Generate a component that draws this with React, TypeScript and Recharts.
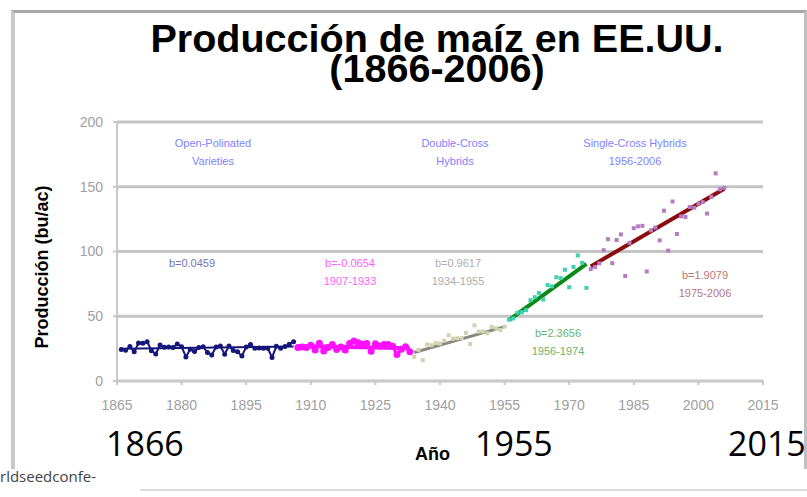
import React from 'react';
import {
  ComposedChart,
  Line,
  Scatter,
  XAxis,
  YAxis,
  CartesianGrid
} from 'recharts';

// rendimiento por año (bu/ac), tramos tal como en el gráfico
const openPollStart = 1866;
const openPollYield = [
  24.3, 23.8, 26.6, 22.5, 29.3, 29.1, 30.4, 23.4, 20.9, 27.8, 26.0, 26.3, 25.9, 28.6,
  26.5, 18.6, 24.6, 22.7, 25.8, 26.5, 22.0, 20.1, 26.3, 27.0, 20.7, 27.0, 23.5, 22.5,
  19.4, 26.2, 28.2, 25.3, 25.5, 25.3, 25.3, 18.2, 26.8, 25.3, 26.6, 28.4, 30.3
];

const lateOpenStart = 1907;
const lateOpenYield = [
  25.9, 26.2, 25.9, 27.7, 23.9, 29.2, 23.1, 25.8, 28.2, 24.4, 26.3, 24.0, 28.9, 30.9,
  29.6, 28.3, 28.9, 22.9, 28.8, 27.0, 28.1, 28.2, 26.8, 20.5, 24.5, 26.5, 22.6
];

const doubleCrossStart = 1934;
const doubleCrossYield = [
  18.7, 24.0, 16.1, 28.2, 27.7, 29.3, 28.9, 31.2, 35.4, 32.6, 33.0, 33.1, 37.2, 28.6,
  43.0, 38.2, 38.2, 36.9, 41.8, 40.7, 39.4, 42.0
];

const earlySingleStart = 1956;
const earlySingleYield = [
  47.4, 48.3, 52.8, 53.1, 54.7, 62.4, 64.7, 67.9, 62.9, 74.1, 73.1, 80.1, 79.5, 85.9,
  72.4, 88.1, 97.0, 91.3, 71.9
];

const singleCrossStart = 1975;
const singleCrossYield = [
  86.4, 88.0, 90.8, 101.0, 109.5, 91.0, 108.9, 113.2, 81.1, 106.7, 118.0, 119.4, 119.8,
  84.6, 116.3, 118.5, 108.6, 131.5, 100.7, 138.6, 113.5, 127.1, 126.7, 134.4, 133.8,
  136.9, 138.2, 129.3, 142.2, 160.3, 148.0, 149.1
];

// extremos de las rectas de tendencia
const trendYears = {
  open: [1866, 1906],
  lateOpen: [1907, 1933],
  double: [1934, 1955],
  earlySingle: [1956, 1974],
  single: [1975, 2006]
};
const trendValues = {
  open: [24.9, 26.7],
  lateOpen: [27.0, 25.3],
  double: [22.0, 42.0],
  earlySingle: [47.0, 90.5],
  single: [88.5, 148.5]
};

const xTicks = [1865, 1880, 1895, 1910, 1925, 1940, 1955, 1970, 1985, 2000, 2015];
const yTicks = [0, 50, 100, 150, 200];

const toPoints = (start: number, values: number[]) =>
  values.map((y, i) => ({ x: start + i, y }));

const toTrend = (key: keyof typeof trendYears) =>
  trendYears[key].map((x, i) => ({ x, y: trendValues[key][i] }));

const square = (color: string) => (props: any) => {
  const { cx, cy } = props;
  if (cx == null || cy == null) return <g />;
  return <rect x={cx - 2} y={cy - 2} width={4} height={4} fill={color} />;
};

const note = (left: number, top: number, color: string, lines: string[]) => (
  <div
    style={{
      position: 'absolute',
      left: left - 80,
      top,
      width: 160,
      textAlign: 'center',
      color,
      fontFamily: 'Liberation Sans, Arial, sans-serif',
      fontSize: 11,
      lineHeight: '18px',
      opacity: 0.85
    }}
  >
    {lines.map((l) => (
      <div key={l}>{l}</div>
    ))}
  </div>
);

const bigYear = (left: number, text: string) => (
  <div
    style={{
      position: 'absolute',
      left,
      top: 420,
      fontFamily: '"Liberation Sans Narrow", "Open Sans", sans-serif',
      fontSize: 34,
      color: '#000'
    }}
  >
    {text}
  </div>
);

export default function App() {
  return (
    <div
      style={{
        position: 'absolute',
        left: 0,
        top: 0,
        width: 807,
        height: 497,
        background: '#fff',
        overflow: 'hidden',
        fontFamily: 'Liberation Sans, Arial, sans-serif'
      }}
    >
      {/* marco de la imagen */}
      <div style={{ position: 'absolute', left: 11, top: 10, width: 789, height: 456, borderLeft: '4px solid #c8c8c8', borderRight: '3px solid #c0c0c0', borderTop: '3px solid #a8a8a8' }} />
      <div style={{ position: 'absolute', left: 140, top: 489, width: 667, height: 2, background: '#dcdcdc' }} />

      <div
        style={{
          position: 'absolute',
          left: 0,
          width: 874,
          top: 24,
          textAlign: 'center',
          fontWeight: 'bold',
          fontSize: 38,
          lineHeight: '30px',
          color: '#000'
        }}
      >
        <div style={{ transform: 'scaleX(1.04)' }}>Producción de maíz en EE.UU.</div>
        <div style={{ transform: 'scaleX(1.04)' }}>(1866-2006)</div>
      </div>

      <ComposedChart
        width={807}
        height={497}
        margin={{ top: 122, right: 44, bottom: 86, left: 57 }}
        style={{ position: 'absolute', left: 0, top: 0 }}
      >
        <CartesianGrid vertical={false} stroke="#c4c4c4" strokeWidth={3} />
        <XAxis
          dataKey="x"
          type="number"
          domain={[1865, 2015]}
          ticks={xTicks}
          interval={0}
          allowDuplicatedCategory={false}
          stroke="#c8c8c8"
          strokeWidth={2}
          tickSize={4}
          tickMargin={15}
          height={30}
          tick={{ fill: '#a0a0a0', fontSize: 14 }}
        />
        <YAxis
          type="number"
          domain={[0, 200]}
          ticks={yTicks}
          stroke="#c8c8c8"
          strokeWidth={2}
          tickSize={4}
          tickMargin={10}
          width={60}
          tick={{ fill: '#a0a0a0', fontSize: 14 }}
        />

        <Line
          data={toPoints(openPollStart, openPollYield)}
          dataKey="y"
          stroke="#15157a"
          strokeWidth={2}
          dot={{ r: 1.5, fill: '#15157a', stroke: '#15157a' }}
          isAnimationActive={false}
        />
        <Line
          data={toTrend('open')}
          dataKey="y"
          stroke="#15157a"
          strokeWidth={2}
          dot={false}
          isAnimationActive={false}
        />
        <Line
          data={toPoints(lateOpenStart, lateOpenYield)}
          dataKey="y"
          stroke="#ff10ff"
          strokeWidth={3}
          dot={{ r: 2, fill: '#ff10ff', stroke: '#ff10ff' }}
          isAnimationActive={false}
        />
        <Line
          data={toTrend('lateOpen')}
          dataKey="y"
          stroke="#ff10ff"
          strokeWidth={4}
          dot={false}
          isAnimationActive={false}
        />

        <Scatter
          data={toPoints(doubleCrossStart, doubleCrossYield)}
          dataKey="y"
          shape={square('#d2d2b0')}
          isAnimationActive={false}
        />
        <Line
          data={toTrend('double')}
          dataKey="y"
          stroke="#8a8a80"
          strokeWidth={3}
          dot={false}
          isAnimationActive={false}
        />

        <Scatter
          data={toPoints(earlySingleStart, earlySingleYield)}
          dataKey="y"
          shape={square('#3fd1b0')}
          isAnimationActive={false}
        />
        <Line
          data={toTrend('earlySingle')}
          dataKey="y"
          stroke="#0b8a1a"
          strokeWidth={4}
          dot={false}
          isAnimationActive={false}
        />

        <Scatter
          data={toPoints(singleCrossStart, singleCrossYield)}
          dataKey="y"
          shape={square('#b57cc4')}
          isAnimationActive={false}
        />
        <Line
          data={toTrend('single')}
          dataKey="y"
          stroke="#8b0c10"
          strokeWidth={4}
          dot={false}
          isAnimationActive={false}
        />
      </ComposedChart>

      <div
        style={{
          position: 'absolute',
          left: 42,
          top: 267,
          transform: 'translate(-50%, -50%) rotate(-90deg)',
          whiteSpace: 'nowrap',
          fontWeight: 'bold',
          fontSize: 18,
          color: '#000'
        }}
      >
        Producción (bu/ac)
      </div>

      {note(213, 134, '#6b6bff', ['Open-Polinated', 'Varieties'])}
      {note(455, 134, '#6b6bff', ['Double-Cross', 'Hybrids'])}
      {note(635, 134, '#6b6bff', ['Single-Cross Hybrids', '1956-2006'])}
      {note(192, 254, '#5a5aa8', ['b=0.0459'])}
      {note(350, 254, '#ff44ff', ['b=-0.0654', '1907-1933'])}
      {note(458, 254, '#a0a0a0', ['b=0.9617', '1934-1955'])}
      {note(558, 324, '#4fa64f', ['b=2.3656', '1956-1974'])}
      {note(705, 266, '#b06060', ['b=1.9079', '1975-2006'])}

      {bigYear(106, '1866')}
      {bigYear(475, '1955')}
      {bigYear(728, '2015')}

      <div style={{ position: 'absolute', left: 415, top: 444, fontWeight: 'bold', fontSize: 18, color: '#000' }}>Año</div>
      <div
        style={{
          position: 'absolute',
          left: 0,
          top: 466,
          fontFamily: '"Open Sans", sans-serif',
          fontSize: 15,
          color: '#444'
        }}
      >
        rldseedconfe-
      </div>
    </div>
  );
}
